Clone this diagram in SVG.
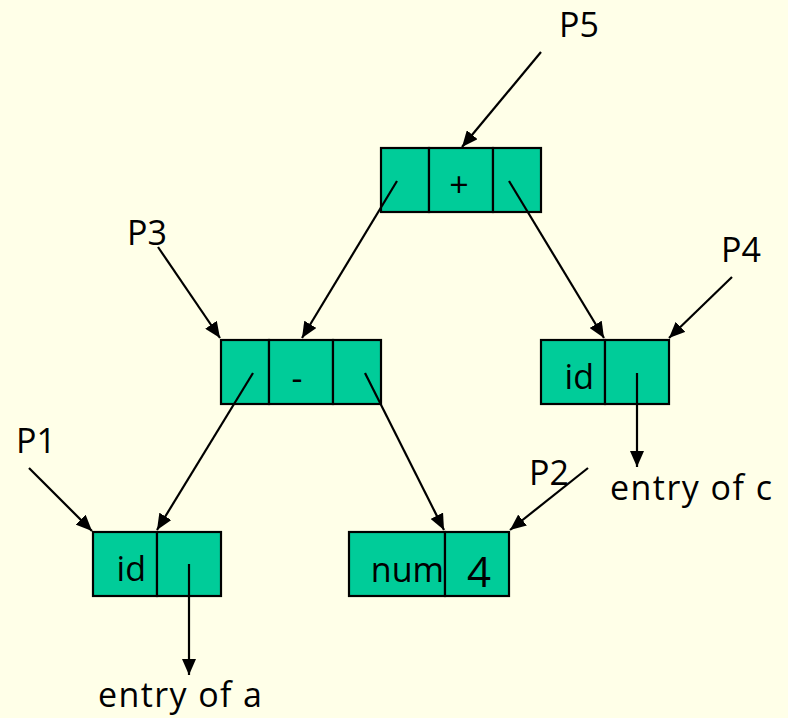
<svg xmlns="http://www.w3.org/2000/svg" width="788" height="718" viewBox="0 0 788 718">
  <defs>
    <marker id="arrow" viewBox="0 0 16 14" refX="16" refY="7" markerWidth="16" markerHeight="14" markerUnits="userSpaceOnUse" orient="auto">
      <path d="M0,0 L16,7 L0,14 z" fill="#000"/>
    </marker>
  </defs>
  <style>
    .cell { fill: #00CC99; stroke: #000; stroke-width: 2.2; }
    .edge { fill: none; stroke: #000; stroke-width: 2.2; marker-end: url(#arrow); }
    .lbl { font-family: "Open Sans", "Liberation Sans", sans-serif; font-size: 34px; fill: #000; }
    .big { font-size: 42px; }
  </style>
  <rect width="788" height="718" fill="#FFFFE8"/>

  <!-- interior node "+" -->
  <g id="node-plus">
    <rect class="cell" x="381" y="148" width="48" height="64"/>
    <rect class="cell" x="429" y="148" width="64" height="64"/>
    <rect class="cell" x="493" y="148" width="48" height="64"/>
    <text class="lbl" x="459" y="197" text-anchor="middle">+</text>
  </g>

  <!-- interior node "-" -->
  <g id="node-minus">
    <rect class="cell" x="221" y="340" width="48" height="64"/>
    <rect class="cell" x="269" y="340" width="64" height="64"/>
    <rect class="cell" x="333" y="340" width="48" height="64"/>
    <text class="lbl" x="297" y="390" text-anchor="middle">-</text>
  </g>

  <!-- leaf id -> c -->
  <g id="node-id-c">
    <rect class="cell" x="541" y="340" width="64" height="64"/>
    <rect class="cell" x="605" y="340" width="64" height="64"/>
    <text class="lbl" x="594" y="389" text-anchor="end">id</text>
  </g>

  <!-- leaf id -> a -->
  <g id="node-id-a">
    <rect class="cell" x="93" y="532" width="64" height="64"/>
    <rect class="cell" x="157" y="532" width="64" height="64"/>
    <text class="lbl" x="146" y="581" text-anchor="end">id</text>
  </g>

  <!-- leaf num 4 -->
  <g id="node-num">
    <rect class="cell" x="349" y="532" width="96" height="64"/>
    <rect class="cell" x="445" y="532" width="64" height="64"/>
    <text class="lbl" x="444" y="582" text-anchor="end">num</text>
    <text class="lbl big" x="479" y="587" text-anchor="middle">4</text>
  </g>

  <!-- pointer labels -->
  <g id="labels">
    <text class="lbl" x="559" y="37">P5</text>
    <text class="lbl" x="127" y="245">P3</text>
    <text class="lbl" x="721" y="262">P4</text>
    <text class="lbl" x="16" y="453">P1</text>
    <text class="lbl" x="529" y="485">P2</text>
    <text class="lbl" x="610" y="500" textLength="162" lengthAdjust="spacing">entry of c</text>
    <text class="lbl" x="98" y="707" textLength="164" lengthAdjust="spacing">entry of a</text>
  </g>

  <!-- connectors -->
  <g id="connectors">
    <line class="edge" x1="541" y1="52" x2="462" y2="147"/>
    <line class="edge" x1="397" y1="181" x2="302" y2="338"/>
    <line class="edge" x1="509" y1="181" x2="604" y2="338"/>
    <line class="edge" x1="158" y1="247" x2="220" y2="338"/>
    <line class="edge" x1="732" y1="277" x2="669" y2="338"/>
    <line class="edge" x1="253" y1="373" x2="157" y2="530"/>
    <line class="edge" x1="365" y1="373" x2="444" y2="530"/>
    <line class="edge" x1="29" y1="468" x2="92" y2="531"/>
    <line class="edge" x1="588" y1="468" x2="510" y2="530"/>
    <line class="edge" x1="637" y1="373" x2="637" y2="467"/>
    <line class="edge" x1="189" y1="564" x2="189" y2="675"/>
  </g>
</svg>
